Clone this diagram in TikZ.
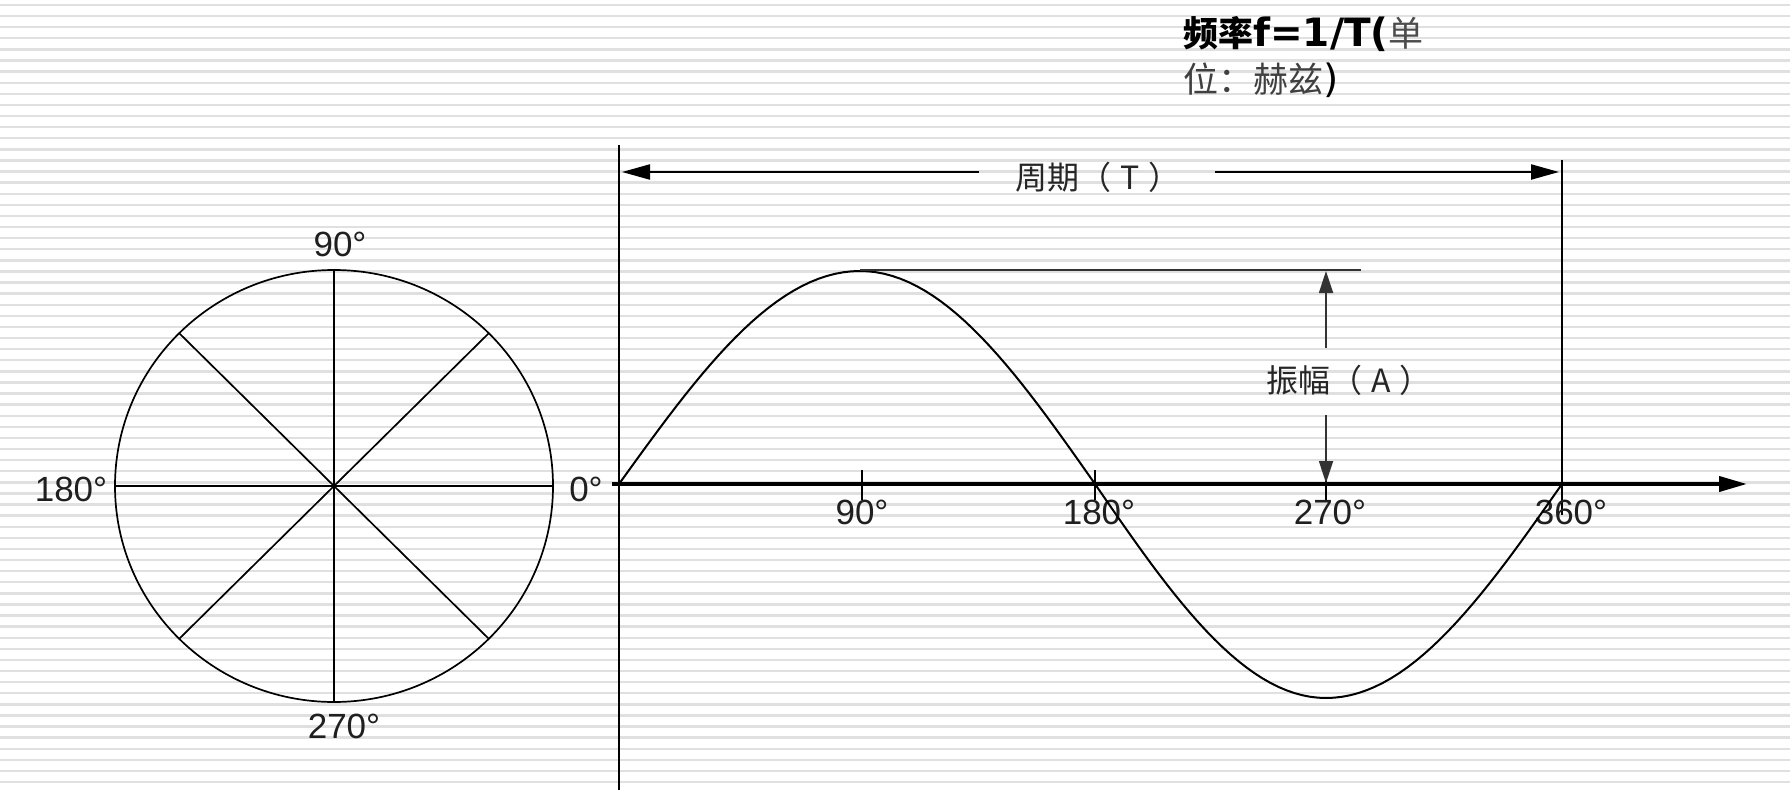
\documentclass[tikz,border=0pt]{standalone}
\usepackage{fontspec}
\setmainfont{Liberation Sans}
\newfontfamily\cjk{Noto Sans CJK SC}
\newfontfamily\dv{DejaVu Sans}
\usetikzlibrary{arrows.meta}
\begin{document}
\begin{tikzpicture}[x=1pt,y=-1pt,
  deg/.style={font=\fontsize{35}{40}\selectfont, text=black!88, inner sep=0pt},
  cjklbl/.style={font=\cjk\fontsize{32}{36}\selectfont, text=black!85, inner sep=0pt},
  stripe/.style={line width=2.4pt, draw=black!12},
  ln/.style={line width=1.7pt, draw=black},
  wave/.style={line width=2pt, draw=black, line join=round},
  axisln/.style={line width=4pt, draw=black},
  tipP/.style={-{Triangle[length=28pt,width=15pt]}},
  tipA/.style={-{Triangle[length=22pt,width=14pt]}}
]
% canvas and background stripes
\useasboundingbox (0,0) rectangle (1790,800);
\fill[white] (0,0) rectangle (1790,800);
\foreach \i in {0,...,70} \draw[stripe] (0,{5+11.1*\i}) -- (1790,{5+11.1*\i});

% ---------- circle ----------
\coordinate (C) at (334,486);
\draw[ln] (C) ellipse [x radius=219pt, y radius=216pt];
\coordinate (cT) at (334,270);
\coordinate (cB) at (334,702);
\coordinate (cL) at (115,486);
\coordinate (cR) at (553,486);
\coordinate (cUL) at (179,333);
\coordinate (cUR) at (489,333);
\coordinate (cLL) at (179,639);
\coordinate (cLR) at (489,639);
\draw[ln] (cT) -- (cB);
\draw[ln] (cL) -- (cR);
\draw[ln] (cUL) -- (cLR);
\draw[ln] (cUR) -- (cLL);
\node[deg] (c90) at (340,244) {90°};
\node[deg] (c180) at (71,489) {180°};
\node[deg] (c0) at (586,489) {0°};
\node[deg] (c270) at (344,726) {270°};

% ---------- wave diagram ----------
\coordinate (v0t) at (619,145);
\coordinate (v0b) at (619,790);
\draw[ln] (v0t) -- (v0b);
\coordinate (v4t) at (1562,160);
\coordinate (v4b) at (1562,515);
\draw[ln] (v4t) -- (v4b);

% axis
\coordinate (ax0) at (612,484);
\coordinate (ax1) at (1747,484);
\draw[axisln,tipP] (ax0) -- (ax1);

% ticks
\foreach \tx/\nm in {862/t1,1095/t2,1326/t3}{
  \coordinate (\nm a) at (\tx,470);
  \coordinate (\nm b) at (\tx,500);
  \draw[ln] (\nm a) -- (\nm b);
}
\node[deg] (l90) at (862,512) {90°};
\node[deg] (l180) at (1099,512) {180°};
\node[deg] (l270) at (1330,512) {270°};
\node[deg] (l360) at (1571,512) {360°};

% sine wave
\draw[wave] plot[domain=0:90,samples=30] ({619+\x/90*241},{484-213*sin(\x)})
  -- plot[domain=90:180,samples=30] ({860+(\x-90)/90*235},{484-213*sin(\x)})
  -- plot[domain=180:270,samples=30] ({1095+(\x-180)/90*231},{484-214*sin(\x)})
  -- plot[domain=270:360,samples=30] ({1326+(\x-270)/90*236},{484-214*sin(\x)});

% peak level line
\coordinate (pk) at (860,270);
\coordinate (pkE) at (1361,270);
\draw[line width=1.6pt, draw=black!80] (pk) -- (pkE);

% amplitude arrow
\node[cjklbl] (amp) at (1349,380) {振幅（\kern9pt A\kern9pt）};
\coordinate (aU0) at (1326,348);
\coordinate (aU1) at (1326,271);
\coordinate (aD0) at (1326,415);
\coordinate (aD1) at (1326,483);
\draw[line width=1.8pt, draw=black!80, tipA] (aU0) -- (aU1);
\draw[line width=1.8pt, draw=black!80, tipA] (aD0) -- (aD1);

% period arrow
\node[cjklbl] (per) at (1098,177) {周期（\kern9pt T\kern9pt）};
\coordinate (pL0) at (979,172);
\coordinate (pL1) at (622,172);
\coordinate (pR0) at (1215,172);
\coordinate (pR1) at (1559,172);
\draw[line width=2.2pt, tipP] (pL0) -- (pL1);
\draw[line width=2.2pt, tipP] (pR0) -- (pR1);

% frequency label
\node[font=\cjk\fontsize{35}{46}\selectfont, anchor=west, align=left, inner sep=0pt] (freq) at (1183,57)
  {{\bfseries 频率}{\dv\bfseries\fontsize{39}{46}\selectfont f=1/T(}{\color{black!70}单}\\[0pt]{\color{black!75}位：赫兹}{\dv\fontsize{39}{46}\selectfont)}};
\end{tikzpicture}
\end{document}
